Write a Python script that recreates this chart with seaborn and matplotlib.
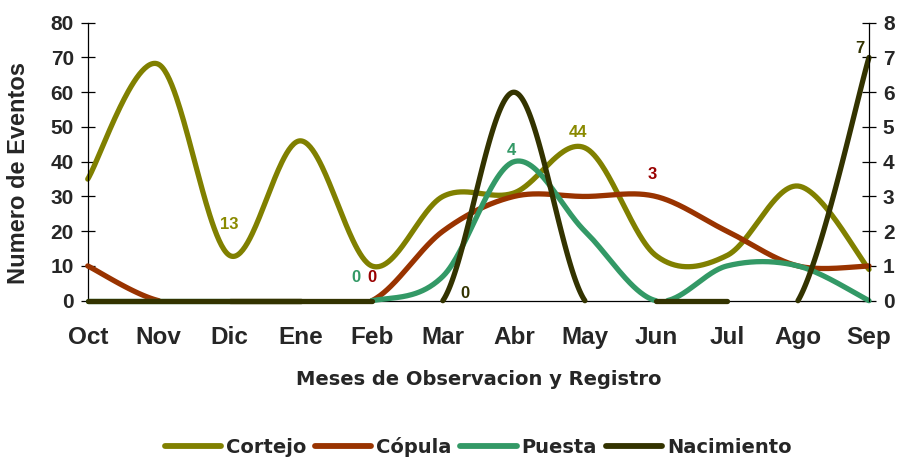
import numpy as np
import pandas as pd
import matplotlib
matplotlib.use("Agg")
import matplotlib.pyplot as plt
import seaborn as sns
from matplotlib.lines import Line2D

# datos
meses = ["Oct", "Nov", "Dic", "Ene", "Feb", "Mar", "Abr", "May", "Jun", "Jul", "Ago", "Sep"]
cortejo = [35, 68, 13, 46, 10, 30, 31, 44, 13, 13, 33, 9]          # eje izquierdo
copula = [1, 0, 0, 0, 0, 2, 3, 3, 3, 2, 1, 1]                      # eje derecho
puesta = [0, 0, 0, 0, 0, 0.7, 4, 2, 0, 1, 1, 0]                    # eje derecho
nacimiento = [0, 0, 0, 0, 0, 0, 6, 0, 0, 0, 0, 7]                  # eje derecho

series = {"Cortejo": cortejo, "Cópula": copula, "Puesta": puesta, "Nacimiento": nacimiento}

# etiquetas de datos: serie -> indices de mes con etiqueta
etiquetas = {"Cortejo": [2, 7], "Cópula": [4, 8], "Puesta": [4, 6], "Nacimiento": [5, 11]}

colores = {"Cortejo": "#808000", "Cópula": "#993300", "Puesta": "#339966", "Nacimiento": "#333300"}
color_etiqueta = {"Cortejo": "#8a8a00", "Cópula": "#990000", "Puesta": "#339966", "Nacimiento": "#333300"}
# desplazamiento de cada etiqueta en pixeles (dx, dy)
desplaz = {("Cortejo", 2): (-1, 31), ("Cortejo", 7): (-7, 15),
           ("Cópula", 4): (0, 23), ("Cópula", 8): (-4, 22),
           ("Puesta", 4): (-16, 23), ("Puesta", 6): (-3, 11),
           ("Nacimiento", 5): (22, 7), ("Nacimiento", 11): (-9, 9)}


def suavizar(y, n=60):
    # curva tipo Excel (Bezier / Catmull-Rom) que pasa por los puntos
    x = np.arange(len(y), dtype=float)
    y = np.asarray(y, dtype=float)
    px = np.concatenate([[x[0]], x, [x[-1]]])
    py = np.concatenate([[y[0]], y, [y[-1]]])
    t = np.linspace(0, 1, n, endpoint=False)
    xs, ys = [], []
    for i in range(len(y) - 1):
        p0, p1, p2, p3 = (np.array([px[i + k], py[i + k]]) for k in range(4))
        c1 = p1 + (p2 - p0) / 6
        c2 = p2 - (p3 - p1) / 6
        b = (((1 - t) ** 3)[:, None] * p1 + (3 * (1 - t) ** 2 * t)[:, None] * c1
             + (3 * (1 - t) * t ** 2)[:, None] * c2 + (t ** 3)[:, None] * p2)
        xs.append(b[:, 0])
        ys.append(b[:, 1])
    xs.append([x[-1]])
    ys.append([y[-1]])
    return np.concatenate(xs), np.concatenate(ys)


def tabla_curva(y):
    xs, ys = suavizar(y)
    valido = ys >= -1e-9          # lo que baja de 0 queda fuera del area
    inicio = valido & ~np.concatenate([[False], valido[:-1]])
    tramo = np.cumsum(inicio)
    return pd.DataFrame({"x": xs[valido], "y": ys[valido], "tramo": tramo[valido]})


sns.set_style("white")
plt.rcParams["font.family"] = ["Liberation Sans", "DejaVu Sans"]
plt.rcParams["font.weight"] = "bold"

fig = plt.figure(figsize=(8.98, 4.59), dpi=100)
ax = fig.add_axes([0.0977, 0.3449, 0.8700, 0.6056])
ax2 = ax.twinx()

lw = 3.8
for nombre, valores in series.items():
    eje = ax if nombre == "Cortejo" else ax2
    df = tabla_curva(valores)
    sns.lineplot(data=df, x="x", y="y", units="tramo", estimator=None, sort=False,
                 color=colores[nombre], linewidth=lw, ax=eje, clip_on=False,
                 solid_capstyle="round", solid_joinstyle="round")
    for i in etiquetas[nombre]:
        dx, dy = desplaz[(nombre, i)]
        v = valores[i]
        eje.annotate(f"{v:g}", (i, v), xytext=(dx, dy), textcoords="offset pixels",
                     ha="center", va="center", fontsize=12, fontweight="bold",
                     color=color_etiqueta[nombre], annotation_clip=False)

ax.set_xlim(0, 11)
ax.set_ylim(0, 80)
ax2.set_ylim(0, 8)
ax.set_xticks(range(len(meses)))
ax.set_xticklabels(meses)
ax.set_yticks(range(0, 81, 10))
ax2.set_yticks(range(0, 9))

for s in ["top", "right"]:
    ax.spines[s].set_visible(False)
for s in ["top", "left", "bottom"]:
    ax2.spines[s].set_visible(False)
for s in ["left", "bottom"]:
    ax.spines[s].set_color("black")
    ax.spines[s].set_linewidth(0.9)
ax2.spines["right"].set_color("black")
ax2.spines["right"].set_linewidth(0.9)

ax.tick_params(axis="x", direction="inout", length=10, width=0.9, color="black",
               pad=13, labelsize=17.5)
ax.tick_params(axis="y", direction="inout", length=10, width=0.9, color="black",
               pad=5, labelsize=15, left=True)
ax2.tick_params(axis="y", direction="inout", length=10, width=0.9, color="black",
                pad=5, labelsize=15, right=True)
for lab in ax.get_xticklabels() + ax.get_yticklabels() + ax2.get_yticklabels():
    lab.set_fontweight("bold")

ax.set_xlabel("Meses de Observacion y Registro", fontsize=14, fontweight="bold",
              va="center", family=["DejaVu Sans"])
ax.xaxis.set_label_coords(0.5, -0.285)
ax.set_ylabel("Numero de Eventos", fontsize=17, fontweight="bold", va="center")
ax.yaxis.set_label_coords(-0.089, 0.458)
ax2.set_ylabel("")

handles = [Line2D([0], [0], color=colores[n], linewidth=4.2, solid_capstyle="round")
           for n in series]
fig.legend(handles, list(series.keys()), loc="center", bbox_to_anchor=(0.5323, 0.0268),
           ncol=4, frameon=False, handlelength=2.9, handletextpad=0.25, columnspacing=0.45,
           prop={"size": 14, "weight": "bold", "family": "DejaVu Sans"})

fig.savefig("out.png", dpi=100)
